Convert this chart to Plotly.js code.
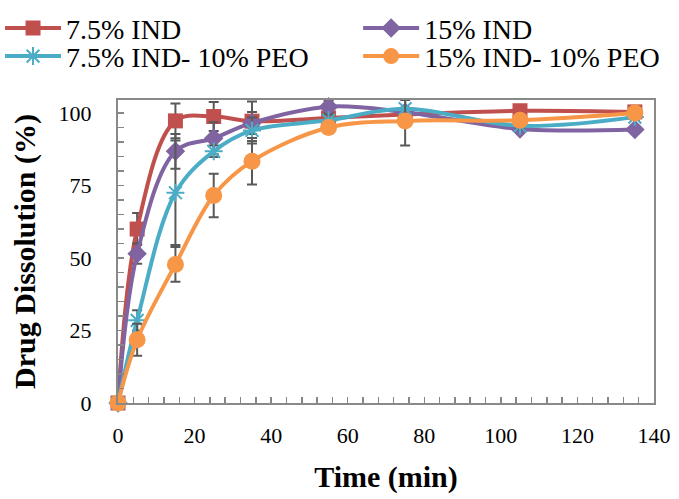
<!DOCTYPE html>
<html>
<head>
<meta charset="utf-8">
<script src="https://cdn.plot.ly/plotly-3.0.1.min.js"></script>
<style>html,body{margin:0;padding:0;background:#fff;}#chart{width:679px;height:499px;}</style>
</head>
<body>
<div id="chart"></div>
<script>
const time = [0, 5, 15, 25, 35, 55, 75, 105, 135];

const names = ["7.5% IND", "15% IND", "7.5% IND- 10% PEO", "15% IND- 10% PEO"];

const ind75 = [0, 60, 97.3, 98.8, 97.2, 98.3, 99.5, 100.8, 100.4];
const ind15 = [0, 51.5, 86.8, 91.3, 96.6, 102.2, 100.3, 94.5, 94.3];
const ind75peo = [0, 28.5, 72.5, 86.8, 94.0, 97.5, 101.5, 95.6, 98.6];
const ind15peo = [0, 21.8, 47.8, 71.6, 83.4, 95.0, 97.3, 97.5, 100.0];

const err75 = [0, 5.5, 6, 5, 6.8, 2, 1, 1, 1];
const err15 = [0, 3.5, 6, 5.5, 3.8, 2, 1.5, 1, 1];
const err75peo = [0, 3.5, 18, 2, 4.5, 2, 3, 1, 1];
const err15peo = [0, 5.5, 6, 7.5, 8, 2, 8.5, 1, 1];

const colors = ["#C0504D", "#8064A2", "#4BACC6", "#F79646"];

function series(name, y, err, color, marker, legend) {
  return {
    x: time, y: y, name: name, type: "scatter", mode: "lines+markers",
    line: {color: color, width: 4, shape: "spline", smoothing: 1},
    marker: marker, legend: legend,
    error_y: {type: "data", array: err, visible: true, color: "#595959", thickness: 2, width: 5},
    cliponaxis: false
  };
}

const data = [
  series(names[0], ind75, err75, colors[0], {symbol: "square", size: 15, color: colors[0]}, "legend"),
  series(names[1], ind15, err15, colors[1], {symbol: "diamond", size: 15, color: colors[1]}, "legend2"),
  series(names[2], ind75peo, err75peo, colors[2], {symbol: "asterisk-open", size: 15, color: colors[2], line: {color: colors[2], width: 2}}, "legend3"),
  series(names[3], ind15peo, err15peo, colors[3], {symbol: "circle", size: 17, color: colors[3]}, "legend4")
];

const legendBase = {
  orientation: "v", xanchor: "left", yanchor: "top",
  itemwidth: 56, tracegroupgap: 0,
  font: {size: 28, family: "Liberation Serif", color: "#000"},
  bgcolor: "rgba(0,0,0,0)"
};
const colA = -0.2201, colB = 0.448, row1 = 1.3194, row2 = 1.2265;

const layout = {
  width: 679, height: 499,
  margin: {l: 118, r: 25, t: 100, b: 96, autoexpand: false},
  paper_bgcolor: "#fff", plot_bgcolor: "#fff",
  font: {family: "Liberation Serif, Times New Roman, serif", color: "#000"},
  showlegend: true,
  legend: Object.assign({}, legendBase, {x: colA, y: row1}),
  legend2: Object.assign({}, legendBase, {x: colB, y: row1}),
  legend3: Object.assign({}, legendBase, {x: colA, y: row2}),
  legend4: Object.assign({}, legendBase, {x: colB, y: row2}),
  xaxis: {
    range: [0, 140], dtick: 20, tick0: 0,
    ticks: "inside", ticklen: 6, tickwidth: 1.5, tickcolor: "#868686",
    minor: {dtick: 4, ticks: "inside", ticklen: 6, tickwidth: 1.5, tickcolor: "#868686"},
    showline: true, linecolor: "#898989", linewidth: 2, mirror: true,
    showgrid: false, zeroline: false,
    tickfont: {size: 22, family: "Liberation Serif", color: "#000"},
    ticklabelstandoff: 12,
    title: {text: "Time (min)", font: {size: 30, family: "Liberation Serif", color: "#000", weight: "bold"}, standoff: 19}
  },
  yaxis: {
    range: [0, 104.5], dtick: 25, tick0: 0,
    ticks: "inside", ticklen: 6, tickwidth: 1.5, tickcolor: "#868686",
    minor: {dtick: 5, ticks: "inside", ticklen: 6, tickwidth: 1.5, tickcolor: "#868686"},
    showline: true, linecolor: "#898989", linewidth: 2, mirror: true,
    showgrid: false, zeroline: false,
    tickfont: {size: 22, family: "Liberation Serif", color: "#000"},
    ticklabelstandoff: 20,
    title: {text: "Drug Dissolution (%)", font: {size: 30, family: "Liberation Serif", color: "#000", weight: "bold"}, standoff: 14}
  }
};

Plotly.newPlot("chart", data, layout, {displayModeBar: false, staticPlot: true});
</script>
</body>
</html>
